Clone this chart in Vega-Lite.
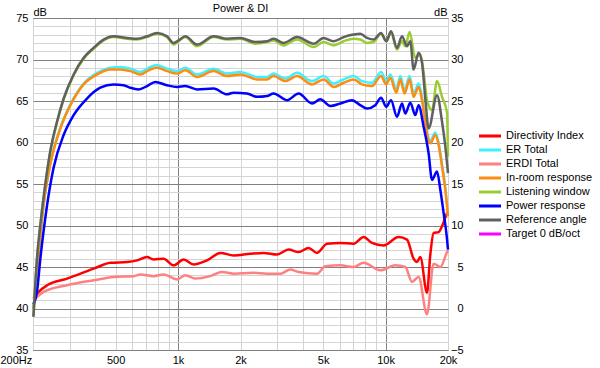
{
"$schema": "https://vega.github.io/schema/vega-lite/v6.json",
"width": 415, "height": 332,
"autosize": {"type": "none"},
"padding": {"left": 33, "top": 18, "right": 152, "bottom": 18},
"background": "white",
"title": {"text": "Power & DI", "fontSize": 11, "fontWeight": "normal", "anchor": "middle", "offset": -17, "baseline": "alphabetic", "color": "#000", "font": "Liberation Sans"},
"config": {
  "font": "Liberation Sans",
  "view": {"stroke": "#808080", "strokeWidth": 1},
  "axis": {"labelFont": "Liberation Sans", "labelFontSize": 11, "labelColor": "#000", "titleFont": "Liberation Sans", "titleFontSize": 11, "titleFontWeight": "normal", "titleColor": "#000", "gridWidth": 1, "gridOpacity": 1, "ticks": false, "tickSize": 0, "domain": false, "labelOverlap": false},
  "legend": {"labelFont": "Liberation Sans", "labelFontSize": 11, "labelColor": "#000", "padding": 0}
},
"datasets": {
"main": [
{"s":"ER Total","f":201,"v":40.0},{"s":"ER Total","f":209,"v":44.4},{"s":"ER Total","f":225,"v":52.6},{"s":"ER Total","f":242,"v":57.4},{"s":"ER Total","f":271,"v":61.8},{"s":"ER Total","f":303,"v":64.6},{"s":"ER Total","f":351,"v":67.1},{"s":"ER Total","f":407,"v":68.4},{"s":"ER Total","f":472,"v":69.0},{"s":"ER Total","f":527,"v":69.1},{"s":"ER Total","f":589,"v":68.9},{"s":"ER Total","f":658,"v":68.5},{"s":"ER Total","f":735,"v":69.1},{"s":"ER Total","f":792,"v":69.3},{"s":"ER Total","f":885,"v":68.9},{"s":"ER Total","f":989,"v":68.6},{"s":"ER Total","f":1084,"v":69.0},{"s":"ER Total","f":1234,"v":68.2},{"s":"ER Total","f":1484,"v":68.9},{"s":"ER Total","f":1722,"v":68.3},{"s":"ER Total","f":1995,"v":68.5},{"s":"ER Total","f":2402,"v":67.9},{"s":"ER Total","f":2684,"v":67.9},{"s":"ER Total","f":2887,"v":68.3},{"s":"ER Total","f":3288,"v":67.7},{"s":"ER Total","f":3744,"v":68.4},{"s":"ER Total","f":4423,"v":67.4},{"s":"ER Total","f":5029,"v":68.0},{"s":"ER Total","f":5620,"v":67.1},{"s":"ER Total","f":6280,"v":67.6},{"s":"ER Total","f":7016,"v":68.0},{"s":"ER Total","f":7700,"v":67.4},{"s":"ER Total","f":8604,"v":67.2},{"s":"ER Total","f":9508,"v":68.5},{"s":"ER Total","f":10084,"v":67.4},{"s":"ER Total","f":10542,"v":68.2},{"s":"ER Total","f":11268,"v":66.4},{"s":"ER Total","f":11780,"v":68.0},{"s":"ER Total","f":12355,"v":66.3},{"s":"ER Total","f":13059,"v":68.0},{"s":"ER Total","f":13652,"v":65.9},{"s":"ER Total","f":14431,"v":67.1},{"s":"ER Total","f":14987,"v":65.5},{"s":"ER Total","f":15546,"v":62.6},{"s":"ER Total","f":16435,"v":60.2},{"s":"ER Total","f":17374,"v":61.2},{"s":"ER Total","f":18023,"v":60.0},{"s":"ER Total","f":18719,"v":57.4},{"s":"ER Total","f":19419,"v":54.5},{"s":"ER Total","f":20000,"v":51.2},
{"s":"In-room response","f":201,"v":40.0},{"s":"In-room response","f":209,"v":44.4},{"s":"In-room response","f":225,"v":52.5},{"s":"In-room response","f":242,"v":57.3},{"s":"In-room response","f":271,"v":61.7},{"s":"In-room response","f":303,"v":64.5},{"s":"In-room response","f":351,"v":67.0},{"s":"In-room response","f":407,"v":68.2},{"s":"In-room response","f":472,"v":68.8},{"s":"In-room response","f":527,"v":68.8},{"s":"In-room response","f":589,"v":68.6},{"s":"In-room response","f":658,"v":68.2},{"s":"In-room response","f":735,"v":68.8},{"s":"In-room response","f":792,"v":69.0},{"s":"In-room response","f":885,"v":68.6},{"s":"In-room response","f":989,"v":68.3},{"s":"In-room response","f":1084,"v":68.7},{"s":"In-room response","f":1234,"v":67.9},{"s":"In-room response","f":1484,"v":68.6},{"s":"In-room response","f":1722,"v":68.0},{"s":"In-room response","f":1995,"v":68.2},{"s":"In-room response","f":2402,"v":67.6},{"s":"In-room response","f":2684,"v":67.6},{"s":"In-room response","f":2887,"v":68.0},{"s":"In-room response","f":3288,"v":67.4},{"s":"In-room response","f":3744,"v":68.0},{"s":"In-room response","f":4423,"v":67.0},{"s":"In-room response","f":5029,"v":67.6},{"s":"In-room response","f":5620,"v":66.7},{"s":"In-room response","f":6280,"v":67.2},{"s":"In-room response","f":7016,"v":67.6},{"s":"In-room response","f":7700,"v":67.0},{"s":"In-room response","f":8604,"v":66.8},{"s":"In-room response","f":9508,"v":68.0},{"s":"In-room response","f":10084,"v":67.0},{"s":"In-room response","f":10542,"v":67.8},{"s":"In-room response","f":11268,"v":66.0},{"s":"In-room response","f":11780,"v":67.6},{"s":"In-room response","f":12355,"v":65.9},{"s":"In-room response","f":13059,"v":67.6},{"s":"In-room response","f":13652,"v":65.5},{"s":"In-room response","f":14431,"v":66.7},{"s":"In-room response","f":14987,"v":65.1},{"s":"In-room response","f":15546,"v":62.3},{"s":"In-room response","f":16435,"v":59.9},{"s":"In-room response","f":17374,"v":60.9},{"s":"In-room response","f":18023,"v":59.7},{"s":"In-room response","f":18719,"v":57.1},{"s":"In-room response","f":19419,"v":54.3},{"s":"In-room response","f":20000,"v":51.1},
{"s":"Listening window","f":201,"v":39.0},{"s":"Listening window","f":209,"v":45.9},{"s":"Listening window","f":217,"v":50.0},{"s":"Listening window","f":229,"v":54.8},{"s":"Listening window","f":242,"v":58.8},{"s":"Listening window","f":261,"v":62.4},{"s":"Listening window","f":281,"v":65.2},{"s":"Listening window","f":314,"v":68.1},{"s":"Listening window","f":351,"v":70.1},{"s":"Listening window","f":392,"v":71.3},{"s":"Listening window","f":438,"v":72.3},{"s":"Listening window","f":489,"v":72.7},{"s":"Listening window","f":568,"v":72.5},{"s":"Listening window","f":634,"v":72.4},{"s":"Listening window","f":709,"v":72.7},{"s":"Listening window","f":792,"v":73.1},{"s":"Listening window","f":885,"v":72.7},{"s":"Listening window","f":952,"v":71.8},{"s":"Listening window","f":1006,"v":72.2},{"s":"Listening window","f":1084,"v":72.7},{"s":"Listening window","f":1234,"v":71.6},{"s":"Listening window","f":1484,"v":72.7},{"s":"Listening window","f":1722,"v":72.4},{"s":"Listening window","f":1995,"v":72.5},{"s":"Listening window","f":2358,"v":71.9},{"s":"Listening window","f":2684,"v":72.1},{"s":"Listening window","f":2887,"v":72.3},{"s":"Listening window","f":3226,"v":71.7},{"s":"Listening window","f":3744,"v":72.4},{"s":"Listening window","f":4502,"v":71.5},{"s":"Listening window","f":5029,"v":72.1},{"s":"Listening window","f":5620,"v":71.7},{"s":"Listening window","f":6280,"v":72.2},{"s":"Listening window","f":7016,"v":72.5},{"s":"Listening window","f":7556,"v":72.4},{"s":"Listening window","f":8141,"v":72.0},{"s":"Listening window","f":8758,"v":72.1},{"s":"Listening window","f":9508,"v":73.1},{"s":"Listening window","f":10084,"v":72.2},{"s":"Listening window","f":10625,"v":73.2},{"s":"Listening window","f":11357,"v":71.2},{"s":"Listening window","f":12004,"v":72.2},{"s":"Listening window","f":12452,"v":71.6},{"s":"Listening window","f":13059,"v":73.3},{"s":"Listening window","f":13912,"v":70.2},{"s":"Listening window","f":14707,"v":70.6},{"s":"Listening window","f":15256,"v":68.5},{"s":"Listening window","f":15843,"v":65.1},{"s":"Listening window","f":16749,"v":63.9},{"s":"Listening window","f":17706,"v":67.4},{"s":"Listening window","f":18719,"v":65.5},{"s":"Listening window","f":19790,"v":63.6},{"s":"Listening window","f":20000,"v":58.3},
{"s":"Power response","f":201,"v":40.5},{"s":"Power response","f":209,"v":42.0},{"s":"Power response","f":217,"v":46.0},{"s":"Power response","f":234,"v":52.5},{"s":"Power response","f":251,"v":56.9},{"s":"Power response","f":281,"v":60.9},{"s":"Power response","f":314,"v":63.3},{"s":"Power response","f":364,"v":65.3},{"s":"Power response","f":422,"v":66.6},{"s":"Power response","f":489,"v":67.0},{"s":"Power response","f":547,"v":66.9},{"s":"Power response","f":589,"v":66.6},{"s":"Power response","f":646,"v":66.4},{"s":"Power response","f":709,"v":66.8},{"s":"Power response","f":777,"v":67.3},{"s":"Power response","f":885,"v":66.9},{"s":"Power response","f":989,"v":66.7},{"s":"Power response","f":1084,"v":66.8},{"s":"Power response","f":1234,"v":66.4},{"s":"Power response","f":1484,"v":66.5},{"s":"Power response","f":1722,"v":65.8},{"s":"Power response","f":1852,"v":66.0},{"s":"Power response","f":2149,"v":65.9},{"s":"Power response","f":2402,"v":65.5},{"s":"Power response","f":2684,"v":65.6},{"s":"Power response","f":2887,"v":65.9},{"s":"Power response","f":3351,"v":65.1},{"s":"Power response","f":3811,"v":65.9},{"s":"Power response","f":4423,"v":64.7},{"s":"Power response","f":4849,"v":65.2},{"s":"Power response","f":5418,"v":64.4},{"s":"Power response","f":6054,"v":64.7},{"s":"Power response","f":6891,"v":65.1},{"s":"Power response","f":7556,"v":64.5},{"s":"Power response","f":8141,"v":64.1},{"s":"Power response","f":8926,"v":64.5},{"s":"Power response","f":9508,"v":65.4},{"s":"Power response","f":10084,"v":64.3},{"s":"Power response","f":10625,"v":65.1},{"s":"Power response","f":11357,"v":63.1},{"s":"Power response","f":12004,"v":64.7},{"s":"Power response","f":12452,"v":63.5},{"s":"Power response","f":13162,"v":64.8},{"s":"Power response","f":13912,"v":63.3},{"s":"Power response","f":14431,"v":64.5},{"s":"Power response","f":15256,"v":61.9},{"s":"Power response","f":16127,"v":58.7},{"s":"Power response","f":16749,"v":55.5},{"s":"Power response","f":17706,"v":56.5},{"s":"Power response","f":18368,"v":54.3},{"s":"Power response","f":19055,"v":51.5},{"s":"Power response","f":19636,"v":49.1},{"s":"Power response","f":20000,"v":47.1},
{"s":"Reference angle","f":201,"v":39.0},{"s":"Reference angle","f":209,"v":46.0},{"s":"Reference angle","f":217,"v":50.1},{"s":"Reference angle","f":229,"v":54.9},{"s":"Reference angle","f":242,"v":58.9},{"s":"Reference angle","f":261,"v":62.5},{"s":"Reference angle","f":281,"v":65.3},{"s":"Reference angle","f":314,"v":68.2},{"s":"Reference angle","f":351,"v":70.2},{"s":"Reference angle","f":392,"v":71.4},{"s":"Reference angle","f":438,"v":72.4},{"s":"Reference angle","f":489,"v":72.8},{"s":"Reference angle","f":568,"v":72.6},{"s":"Reference angle","f":634,"v":72.5},{"s":"Reference angle","f":709,"v":72.8},{"s":"Reference angle","f":792,"v":73.2},{"s":"Reference angle","f":885,"v":72.8},{"s":"Reference angle","f":952,"v":72.0},{"s":"Reference angle","f":1006,"v":72.3},{"s":"Reference angle","f":1084,"v":72.8},{"s":"Reference angle","f":1234,"v":71.8},{"s":"Reference angle","f":1484,"v":72.8},{"s":"Reference angle","f":1722,"v":72.5},{"s":"Reference angle","f":1995,"v":72.6},{"s":"Reference angle","f":2358,"v":72.1},{"s":"Reference angle","f":2684,"v":72.2},{"s":"Reference angle","f":2887,"v":72.5},{"s":"Reference angle","f":3226,"v":72.0},{"s":"Reference angle","f":3744,"v":72.7},{"s":"Reference angle","f":4502,"v":71.9},{"s":"Reference angle","f":5029,"v":72.6},{"s":"Reference angle","f":5620,"v":72.2},{"s":"Reference angle","f":6280,"v":72.7},{"s":"Reference angle","f":7016,"v":73.0},{"s":"Reference angle","f":7556,"v":73.1},{"s":"Reference angle","f":8141,"v":72.6},{"s":"Reference angle","f":8758,"v":72.4},{"s":"Reference angle","f":9508,"v":73.2},{"s":"Reference angle","f":10084,"v":72.2},{"s":"Reference angle","f":10625,"v":73.4},{"s":"Reference angle","f":11357,"v":71.4},{"s":"Reference angle","f":12004,"v":72.8},{"s":"Reference angle","f":12689,"v":71.6},{"s":"Reference angle","f":13162,"v":72.2},{"s":"Reference angle","f":13652,"v":68.8},{"s":"Reference angle","f":14431,"v":70.8},{"s":"Reference angle","f":14987,"v":69.6},{"s":"Reference angle","f":15546,"v":65.3},{"s":"Reference angle","f":16127,"v":61.7},{"s":"Reference angle","f":17706,"v":65.7},{"s":"Reference angle","f":18719,"v":62.5},{"s":"Reference angle","f":19419,"v":59.5},{"s":"Reference angle","f":20000,"v":56.3}
],
"di": [
{"s":"Directivity Index","f":201,"v":1.2},{"s":"Directivity Index","f":213,"v":2.0},{"s":"Directivity Index","f":234,"v":2.8},{"s":"Directivity Index","f":292,"v":3.6},{"s":"Directivity Index","f":392,"v":4.8},{"s":"Directivity Index","f":472,"v":5.5},{"s":"Directivity Index","f":568,"v":5.6},{"s":"Directivity Index","f":634,"v":5.8},{"s":"Directivity Index","f":709,"v":6.2},{"s":"Directivity Index","f":763,"v":5.9},{"s":"Directivity Index","f":852,"v":6.0},{"s":"Directivity Index","f":952,"v":5.2},{"s":"Directivity Index","f":1064,"v":5.9},{"s":"Directivity Index","f":1189,"v":5.3},{"s":"Directivity Index","f":1380,"v":5.8},{"s":"Directivity Index","f":1599,"v":6.7},{"s":"Directivity Index","f":1852,"v":6.4},{"s":"Directivity Index","f":2229,"v":6.6},{"s":"Directivity Index","f":2584,"v":6.7},{"s":"Directivity Index","f":2998,"v":6.5},{"s":"Directivity Index","f":3411,"v":7.1},{"s":"Directivity Index","f":3811,"v":6.8},{"s":"Directivity Index","f":4258,"v":7.3},{"s":"Directivity Index","f":4675,"v":6.7},{"s":"Directivity Index","f":5223,"v":7.8},{"s":"Directivity Index","f":6054,"v":7.9},{"s":"Directivity Index","f":7016,"v":7.8},{"s":"Directivity Index","f":7840,"v":8.6},{"s":"Directivity Index","f":8604,"v":7.9},{"s":"Directivity Index","f":9786,"v":7.6},{"s":"Directivity Index","f":11560,"v":8.6},{"s":"Directivity Index","f":12689,"v":8.3},{"s":"Directivity Index","f":13652,"v":6.0},{"s":"Directivity Index","f":14177,"v":5.6},{"s":"Directivity Index","f":14707,"v":6.2},{"s":"Directivity Index","f":15843,"v":1.9},{"s":"Directivity Index","f":16435,"v":6.5},{"s":"Directivity Index","f":17048,"v":9.1},{"s":"Directivity Index","f":18023,"v":9.2},{"s":"Directivity Index","f":18719,"v":9.9},{"s":"Directivity Index","f":19790,"v":11.5},{"s":"Directivity Index","f":20000,"v":11.7},
{"s":"ERDI Total","f":201,"v":1.0},{"s":"ERDI Total","f":225,"v":2.0},{"s":"ERDI Total","f":292,"v":2.8},{"s":"ERDI Total","f":392,"v":3.4},{"s":"ERDI Total","f":489,"v":3.8},{"s":"ERDI Total","f":611,"v":3.9},{"s":"ERDI Total","f":658,"v":4.1},{"s":"ERDI Total","f":763,"v":3.9},{"s":"ERDI Total","f":852,"v":4.1},{"s":"ERDI Total","f":989,"v":3.5},{"s":"ERDI Total","f":1084,"v":4.0},{"s":"ERDI Total","f":1211,"v":3.6},{"s":"ERDI Total","f":1431,"v":3.9},{"s":"ERDI Total","f":1629,"v":4.4},{"s":"ERDI Total","f":1852,"v":4.2},{"s":"ERDI Total","f":2312,"v":4.3},{"s":"ERDI Total","f":2684,"v":4.2},{"s":"ERDI Total","f":3110,"v":4.2},{"s":"ERDI Total","f":3475,"v":4.7},{"s":"ERDI Total","f":3811,"v":4.4},{"s":"ERDI Total","f":4675,"v":4.2},{"s":"ERDI Total","f":5125,"v":5.1},{"s":"ERDI Total","f":6054,"v":5.2},{"s":"ERDI Total","f":7016,"v":5.0},{"s":"ERDI Total","f":7840,"v":5.5},{"s":"ERDI Total","f":9434,"v":4.6},{"s":"ERDI Total","f":11144,"v":5.2},{"s":"ERDI Total","f":12452,"v":5.0},{"s":"ERDI Total","f":13414,"v":3.2},{"s":"ERDI Total","f":14431,"v":3.8},{"s":"ERDI Total","f":15843,"v":-0.7},{"s":"ERDI Total","f":17048,"v":5.4},{"s":"ERDI Total","f":18368,"v":5.0},{"s":"ERDI Total","f":19790,"v":6.8},{"s":"ERDI Total","f":20000,"v":7.0}
]
},
"encoding": {
  "x": {"field": "f", "type": "quantitative", "scale": {"type": "log", "domain": [200, 20000], "nice": false},
    "axis": {"title": null, "values": [200,300,400,500,600,700,800,900,1000,2000,3000,4000,5000,6000,7000,8000,9000,10000,20000],
      "labelExpr": "datum.value==200?'200Hz':datum.value==500?'500':datum.value==1000?'1k':datum.value==2000?'2k':datum.value==5000?'5k':datum.value==10000?'10k':datum.value==20000?'20k':''",
      "gridColor": {"condition": {"test": "datum.value==1000||datum.value==10000", "value": "#808080"}, "value": "#d4d4d4"},
      "labelPadding": 4,
      "labelAlign": {"condition": {"test": "datum.value==200", "value": "left"}, "value": "center"},
      "labelOffset": {"condition": {"test": "datum.value==200", "value": -33}, "value": 0}}},
  "color": {"field": "s", "type": "nominal",
    "scale": {"domain": ["Directivity Index","ER Total","ERDI Total","In-room response","Listening window","Power response","Reference angle","Target 0 dB/oct"],
              "range": ["#ff0000","#3ff0ff","#ff8080","#ff8c10","#9acd32","#0000ff","#606060","#ff00ff"]},
    "legend": {"title": null, "orient": "none", "legendX": 450, "legendY": 111, "symbolType": "M-2,0H2", "symbolSize": 121, "symbolStrokeWidth": 3, "labelOffset": 9, "rowPadding": 1}}
},
"layer": [
  {"data": {"name": "di"},
   "mark": {"type": "line", "interpolate": "monotone", "strokeWidth": 2.5},
   "encoding": {"y": {"field": "v", "type": "quantitative", "scale": {"domain": [-5, 35], "nice": false},
     "axis": {"orient": "right", "values": [-5,-4,-3,-2,-1,0,1,2,3,4,5,6,7,8,9,10,11,12,13,14,15,16,17,18,19,20,21,22,23,24,25,26,27,28,29,30,31,32,33,34,35],
       "labelExpr": "datum.value%5==0?datum.label:''",
       "grid": true, "gridColor": {"condition": {"test": "datum.value%5==0", "value": "#808080"}, "value": "#d4d4d4"},
       "labelAlign": "right", "labelPadding": 15,
       "title": "dB", "titleAngle": 0, "titleX": -1, "titleY": -3, "titleAlign": "right", "titleBaseline": "alphabetic"}}}},
  {"data": {"name": "main"},
   "mark": {"type": "line", "interpolate": "monotone", "strokeWidth": 2.5},
   "encoding": {"y": {"field": "v", "type": "quantitative", "scale": {"domain": [35, 75], "nice": false},
     "axis": {"orient": "left", "values": [35,40,45,50,55,60,65,70,75], "grid": false,
       "labelPadding": 5,
       "title": "dB", "titleAngle": 0, "titleX": 0, "titleY": -3, "titleAlign": "left", "titleBaseline": "alphabetic"}}}}
],
"resolve": {"scale": {"y": "independent"}}
}
